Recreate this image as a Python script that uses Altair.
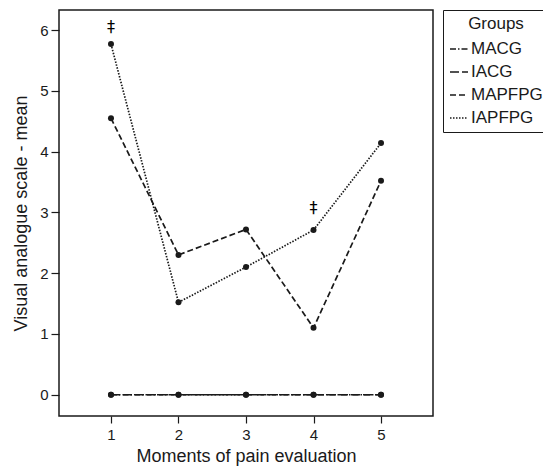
import altair as alt
import pandas as pd

moments = [1, 2, 3, 4, 5]
groups = ["MACG", "IACG", "MAPFPG", "IAPFPG"]
macg = [0, 0, 0, 0, 0]
iacg = [0, 0, 0, 0, 0]
mapfpg = [4.55, 2.30, 2.72, 1.10, 3.52]
iapfpg = [5.77, 1.52, 2.10, 2.71, 4.14]
mark_x = [1, 4]
mark_y = [6.05, 3.07]
mark_txt = ["‡", "‡"]

rows = []
for g, vals in zip(groups, [macg, iacg, mapfpg, iapfpg]):
    for m, v in zip(moments, vals):
        rows.append({"moment": m, "value": v, "group": g})
df = pd.DataFrame(rows)
marks_df = pd.DataFrame({"moment": mark_x, "value": mark_y, "t": mark_txt})

FONT = "Liberation Sans"
INK = "#1a1a1a"

xs = alt.Scale(domain=[0.23, 5.77], nice=False, zero=False)
ys = alt.Scale(domain=[-0.35, 6.33], nice=False, zero=False)

x_enc = alt.X("moment:Q", scale=xs,
              axis=alt.Axis(values=moments, title="Moments of pain evaluation", format="d",
                            grid=False, domain=False, tickSize=7, labelPadding=4,
                            titlePadding=5))
y_enc = alt.Y("value:Q", scale=ys,
              axis=alt.Axis(values=[0, 1, 2, 3, 4, 5, 6], title="Visual analogue scale - mean",
                            grid=False, domain=False, tickSize=8, labelPadding=3,
                            titlePadding=9))

lines = alt.Chart(df).mark_line(strokeWidth=1.7, color=INK).encode(
    x=x_enc, y=y_enc,
    strokeDash=alt.StrokeDash(
        "group:N",
        scale=alt.Scale(domain=groups,
                        range=[[6, 2, 1.5, 2], [9, 3], [6, 3], [1.5, 1.5]]),
        legend=alt.Legend(title="Groups", orient="none", legendX=384, legendY=0,
                          symbolType="stroke", symbolSize=324, symbolStrokeWidth=1.5,
                          symbolStrokeColor=INK, strokeColor=INK, padding=6,
                          titleAnchor="middle", titleFontSize=17, titleFontWeight="normal",
                          labelFontSize=17, rowPadding=5, titlePadding=6,
                          labelOffset=2, symbolOffset=0, labelLimit=200),
    ),
    detail="group:N",
)

pts = alt.Chart(df).mark_point(filled=True, size=36, color=INK, opacity=1).encode(
    x=x_enc, y=y_enc)

txt = alt.Chart(marks_df).mark_text(fontSize=16, color="#000000", font="DejaVu Sans").encode(
    x=x_enc, y=y_enc, text="t:N")

chart = alt.layer(lines, pts, txt).properties(
    width=374, height=406,
    autosize=alt.AutoSizeParams(type="none"),
    padding={"left": 51, "top": 2, "right": 110, "bottom": 50},
).configure(font=FONT).configure_view(
    stroke=INK, strokeWidth=1.5
).configure_axis(
    labelFont=FONT, titleFont=FONT, labelFontSize=15, titleFontSize=18,
    titleFontWeight="normal", labelColor=INK, titleColor=INK, tickColor=INK,
    tickWidth=1.2
).configure_legend(labelFont=FONT, titleFont=FONT, labelColor=INK, titleColor=INK)

chart.save("out.html", embed_options={"renderer": "svg", "actions": False})
